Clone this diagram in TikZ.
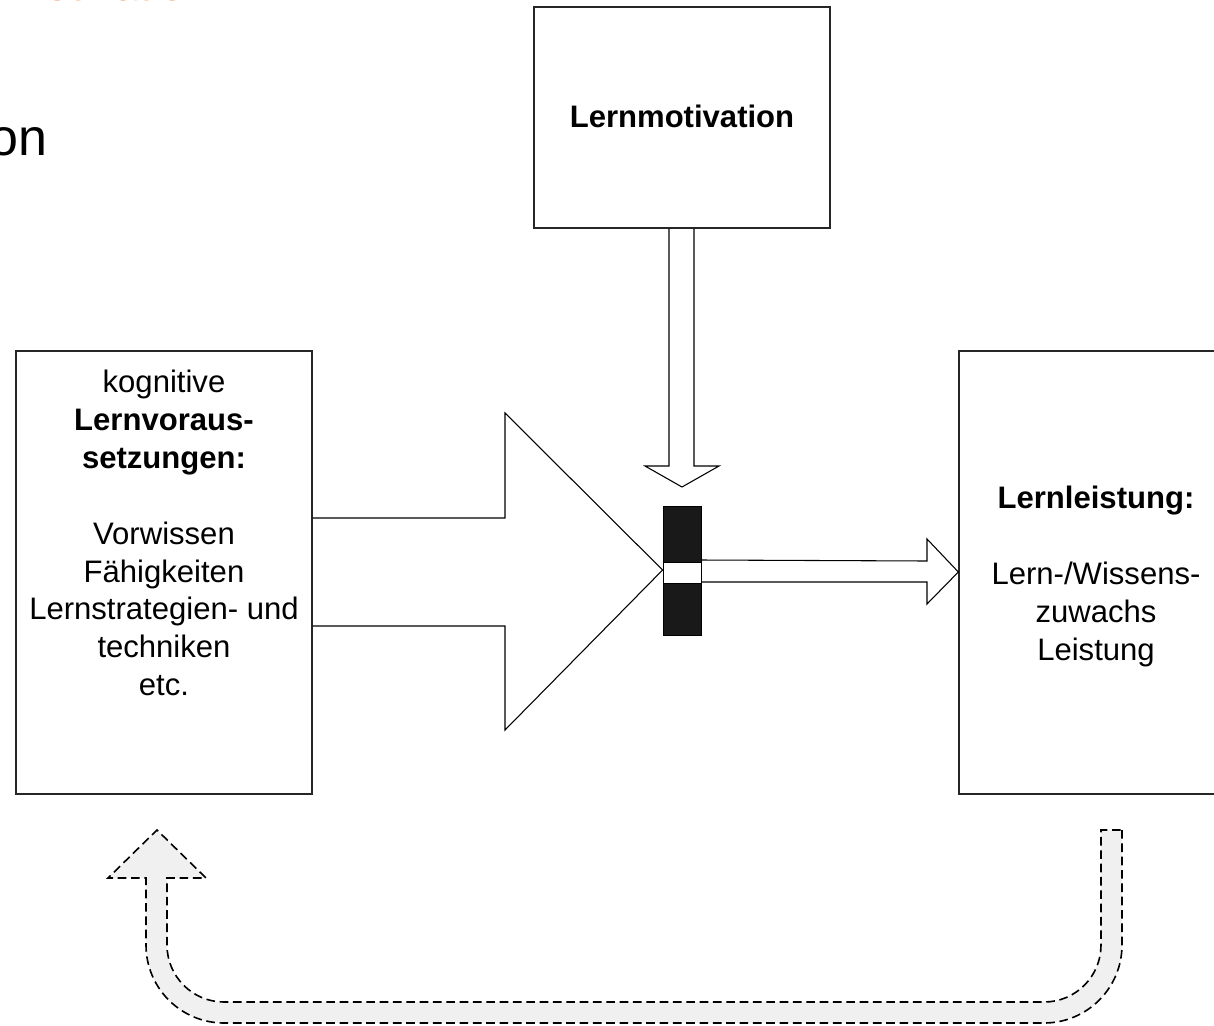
\documentclass[tikz,border=0pt]{standalone}
\usepackage{fontspec}
\setmainfont{Liberation Sans}
\definecolor{titleorange}{RGB}{233,120,30}
\begin{document}
\begin{tikzpicture}[x=0.75pt,y=-0.75pt,line join=miter]
\useasboundingbox (0,0) rectangle (1214,1025);
\clip (0,0) rectangle (1214,1025);
\tikzset{
  txt/.style={font=\fontsize{23.3}{28.4}\selectfont, inner sep=0pt, align=center},
  txtb/.style={font=\fontsize{23.3}{28.4}\selectfont\bfseries, inner sep=0pt, align=center},
  boxframe/.style={draw=black!85, line width=1pt, inner sep=0pt},
  blockarrow/.style={draw=black, line width=0.8pt},
  feedback/.style={draw=black, fill=black!6, line width=1.2pt, dash pattern=on 6.5pt off 3.5pt},
}
% boxes
\node[boxframe, minimum width=222pt, minimum height=165.75pt] (mot) at (682,117.5) {};
\node[boxframe, minimum width=222pt, minimum height=332.25pt] (vor) at (164,572.5) {};
\node[boxframe, minimum width=203.25pt, minimum height=332.25pt] (lei) at (1094.5,572.5) {};
% texts
\node[txtb, anchor=base] (motT) at (682,127) {Lernmotivation};
\node[txt, anchor=north] (vorT) at (164,370) {kognitive\\\textbf{Lernvoraus-}\\\textbf{setzungen:}\\[28.4pt]Vorwissen\\Fähigkeiten\\Lernstrategien- und\\techniken\\etc.};
\node[txt, anchor=north] (leiT) at (1096,486) {\textbf{Lernleistung:}\\[28.4pt]Lern-/Wissens-\\zuwachs\\Leistung};
\node[font=\fontsize{39}{45}\selectfont, anchor=base east, inner sep=0pt] (on) at (48,155) {on};
\node[font=\fontsize{33}{38}\selectfont, text=titleorange, anchor=base east, inner sep=0pt] (title) at (210,0.4) {Motivation};
% bar
\node[fill=black!90, draw=black, line width=0.6pt, minimum width=28.5pt, minimum height=96.75pt, inner sep=0pt] (bar) at (682,570.5) {};
\node[fill=white, draw=black, line width=0.5pt, minimum width=28.5pt, minimum height=15.75pt, inner sep=0pt] (gap) at (682,572.5) {};
% big arrow
\draw[blockarrow] (vor.east |- 0,518) -- (505,518) -- (505,413) -- (bar.west |- 0,570) -- (505,730) -- (505,626) -- (vor.east |- 0,626);
% down arrow
\draw[blockarrow] (669,0 |- mot.south) -- (669,466) -- (645,466) -- (682,487) -- (719,466) -- (694,466) -- (694,0 |- mot.south);
% right arrow
\draw[blockarrow] (bar.east |- 0,560) -- (927,561) -- (927,539) -- (lei.west |- 0,572) -- (927,604) -- (927,582) -- (bar.east |- 0,582);
% feedback arrow
\draw[feedback] (1122,830) -- (1122,945) arc[start angle=0,end angle=-90,radius=58.5pt]
  -- (224,1023) arc[start angle=270,end angle=180,radius=58.5pt]
  -- (146,878) -- (108,878) -- (157,830) -- (206,878) -- (167,878) -- (167,945)
  arc[start angle=180,end angle=270,radius=42.75pt]
  -- (1044,1002) arc[start angle=-90,end angle=0,radius=42.75pt]
  -- (1101,830) -- cycle;
\end{tikzpicture}
\end{document}
